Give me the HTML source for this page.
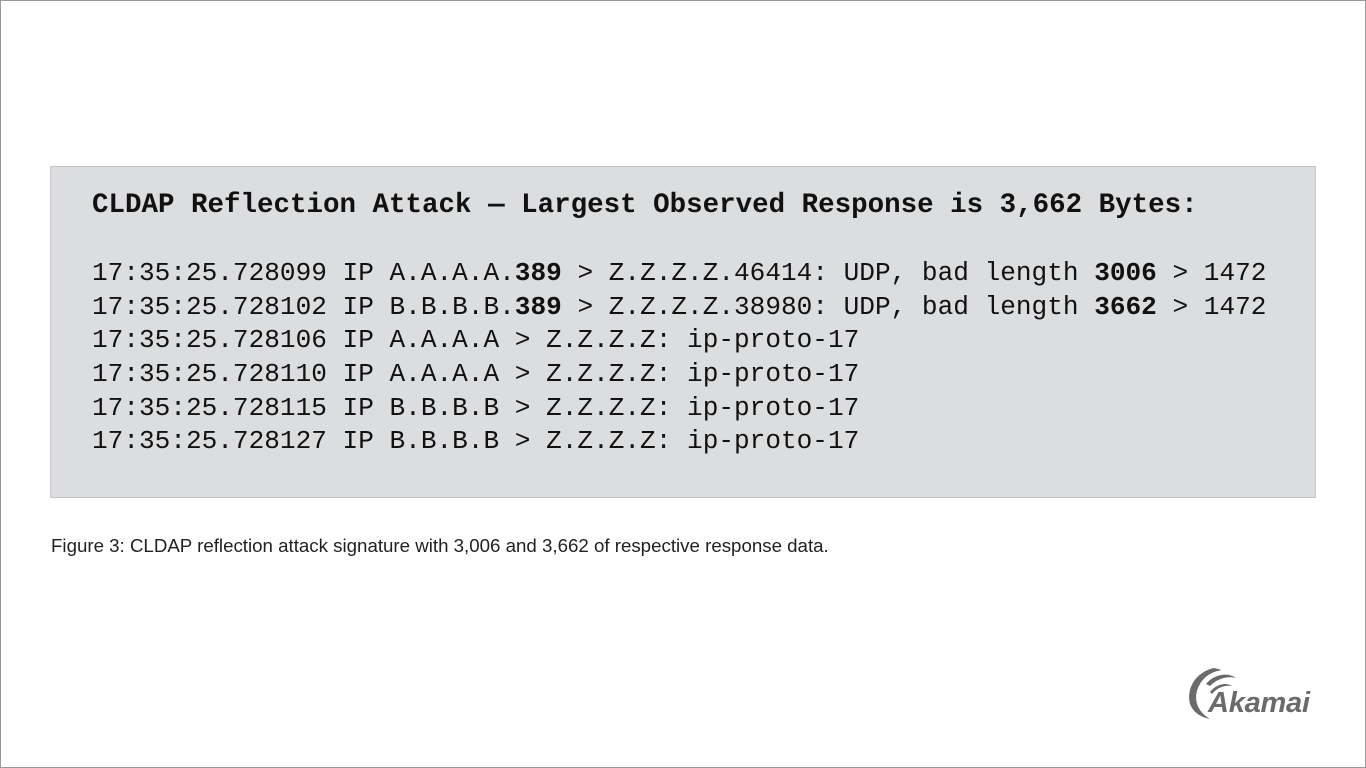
<!DOCTYPE html>
<html><head><meta charset="utf-8"><style>
html,body{margin:0;padding:0}
body{width:1366px;height:768px;position:relative;background:#fff;overflow:hidden}
.frame{position:absolute;left:0;top:0;width:1364px;height:766px;border:1px solid #9a9a9a}
.box{position:absolute;left:50px;top:166px;width:1264px;height:330px;background:#dcdddf;border:1px solid #c6c6c6}
.t{position:absolute;left:92px;font-family:"Liberation Mono",monospace;color:#111;white-space:pre;line-height:1}
.title{font-size:27.5px;font-weight:bold;top:192px}
.l{font-size:26.1px}
.cap{position:absolute;left:51px;top:535px;font-family:"Liberation Sans",sans-serif;font-size:18.7px;color:#222;white-space:pre}
</style></head><body>
<div class="frame"></div>
<div class="box"></div>
<div class="t title">CLDAP Reflection Attack — Largest Observed Response is 3,662 Bytes:</div>
<div class="t l" style="top:260px">17:35:25.728099 IP A.A.A.A.<b>389</b> &gt; Z.Z.Z.Z.46414: UDP, bad length <b>3006</b> &gt; 1472</div>
<div class="t l" style="top:294px">17:35:25.728102 IP B.B.B.B.<b>389</b> &gt; Z.Z.Z.Z.38980: UDP, bad length <b>3662</b> &gt; 1472</div>
<div class="t l" style="top:327px">17:35:25.728106 IP A.A.A.A &gt; Z.Z.Z.Z: ip-proto-17</div>
<div class="t l" style="top:361px">17:35:25.728110 IP A.A.A.A &gt; Z.Z.Z.Z: ip-proto-17</div>
<div class="t l" style="top:395px">17:35:25.728115 IP B.B.B.B &gt; Z.Z.Z.Z: ip-proto-17</div>
<div class="t l" style="top:428px">17:35:25.728127 IP B.B.B.B &gt; Z.Z.Z.Z: ip-proto-17</div>
<div class="cap">Figure 3: CLDAP reflection attack signature with 3,006 and 3,662 of respective response data.</div>
<svg style="position:absolute;left:1184px;top:664px" width="130" height="56" viewBox="0 0 130 56">
<path d="M30 4 C12 8 2 24 6 40 C9 48 16 53 26 55 C14 48 9 36 14 24 C18 14 26 8 38 6 Z" fill="#6b6b6b"/>
<path d="M22 20 C30 10 44 8 52 14 C44 12 34 14 26 22 Z" fill="#6b6b6b"/>
<path d="M26 28 C32 20 42 18 48 22 C40 21 33 24 28 30 Z" fill="#6b6b6b"/>
<text x="24" y="48" font-family="Liberation Sans,sans-serif" font-size="29" font-weight="bold" font-style="italic" fill="#6b6b6b" textLength="102">Akamai</text>
</svg>
</body></html>
